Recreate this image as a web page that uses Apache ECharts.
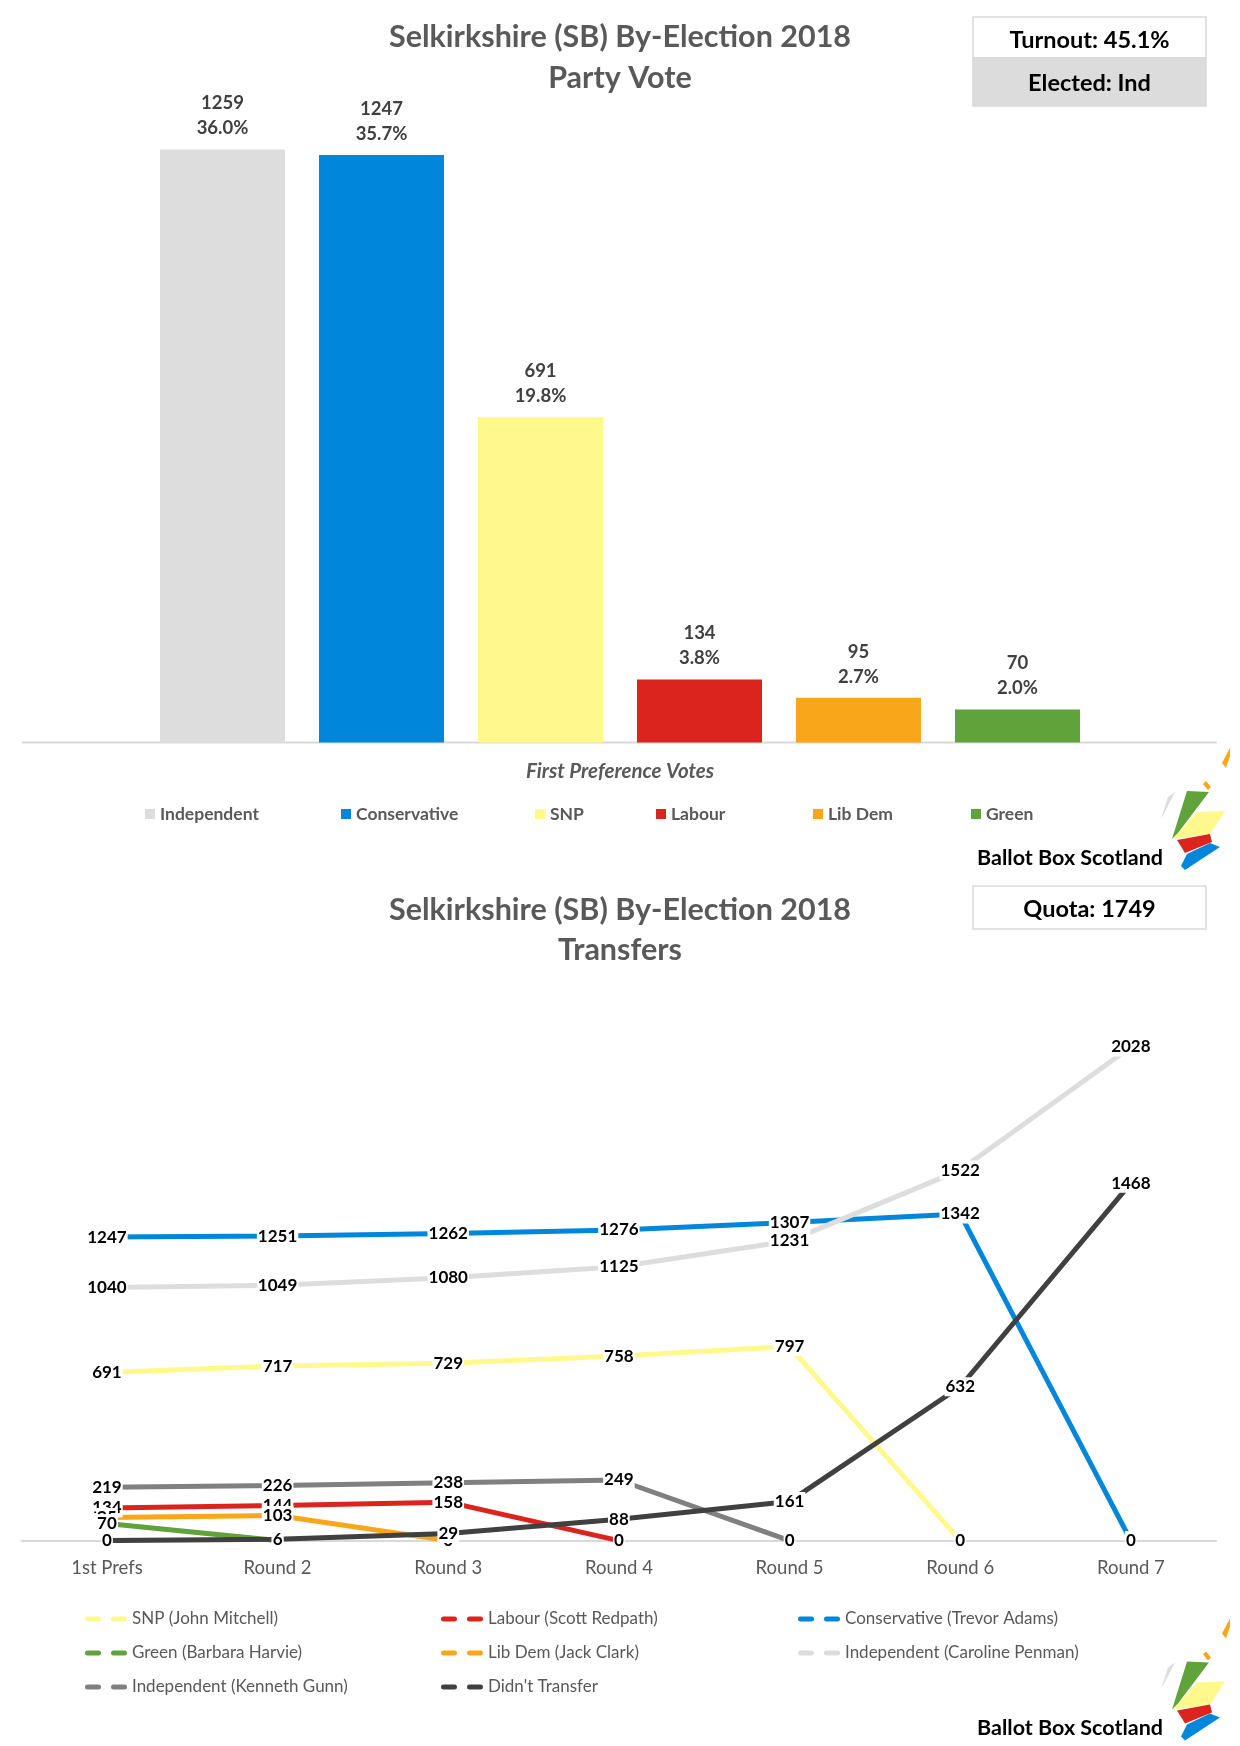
<!DOCTYPE html>
<html>
<head>
<meta charset="utf-8">
<title>Selkirkshire (SB) By-Election 2018</title>
<script src="https://cdn.jsdelivr.net/npm/echarts@6/dist/echarts.min.js"></script>
<style>
  html, body { margin: 0; padding: 0; background: #fff; }
  #main { width: 1240px; height: 1746px; }
</style>
</head>
<body>
<div id="main"></div>
<script>
// first preference votes
var parties = ['Independent', 'Conservative', 'SNP', 'Labour', 'Lib Dem', 'Green'];
var firstPrefs = [1259, 1247, 691, 134, 95, 70];
var firstPrefPct = ['36.0', '35.7', '19.8', '3.8', '2.7', '2.0'];
var partyColors = ['#dddddd', '#0087dc', '#fff98d', '#dc241f', '#faa61a', '#60a33a'];

// transfers by round ('-' = candidate already eliminated)
var rounds = ['1st Prefs', 'Round 2', 'Round 3', 'Round 4', 'Round 5', 'Round 6', 'Round 7'];
var snpMitchell = [691, 717, 729, 758, 797, 0, '-'];
var labRedpath = [134, 144, 158, 0, '-', '-', '-'];
var conAdams = [1247, 1251, 1262, 1276, 1307, 1342, 0];
var grnHarvie = [70, 0, '-', '-', '-', '-', '-'];
var ldClark = [95, 103, 0, '-', '-', '-', '-'];
var indPenman = [1040, 1049, 1080, 1125, 1231, 1522, 2028];
var indGunn = [219, 226, 238, 249, 0, '-', '-'];
var noTransfer = [0, 6, 29, 88, 161, 632, 1468];

var font = 'Lato';
var grey = '#595959';

var chart = echarts.init(document.getElementById('main'));

var barSeries = parties.map(function (p, i) {
  return {
    name: p,
    type: 'bar',
    xAxisIndex: 0,
    yAxisIndex: 0,
    barWidth: 125,
    barGap: '-100%',
    itemStyle: { color: partyColors[i] },
    label: {
      show: true,
      position: 'top',
      distance: 8.5,
      color: '#404040',
      fontFamily: font,
      fontWeight: 'bold',
      fontSize: 18.5,
      lineHeight: 25,
      formatter: function (e) {
        return e.value + '\n' + firstPrefPct[e.dataIndex] + '%';
      }
    },
    data: parties.map(function (q, j) { return j === i ? firstPrefs[j] : '-'; })
  };
});

function transferLine(name, data, color) {
  return {
    name: name,
    type: 'line',
    xAxisIndex: 1,
    yAxisIndex: 1,
    data: data,
    color: color,
    symbol: 'circle',
    symbolSize: 2,
    showAllSymbol: true,
    lineStyle: { width: 5, color: color },
    label: {
      show: true,
      position: 'inside',
      color: '#000',
      fontFamily: font,
      fontWeight: 'bold',
      fontSize: 17,
      backgroundColor: '#fff',
      padding: [1, 1]
    }
  };
}

// draw order: green after lib dem so its label sits on top, like the original
var lineSeries = [
  transferLine('SNP (John Mitchell)', snpMitchell, '#fff98d'),
  transferLine('Labour (Scott Redpath)', labRedpath, '#dc241f'),
  transferLine('Conservative (Trevor Adams)', conAdams, '#0087dc'),
  transferLine('Lib Dem (Jack Clark)', ldClark, '#faa61a'),
  transferLine('Green (Barbara Harvie)', grnHarvie, '#60a33a'),
  transferLine('Independent (Caroline Penman)', indPenman, '#dddddd'),
  transferLine('Independent (Kenneth Gunn)', indGunn, '#808080'),
  transferLine("Didn't Transfer", noTransfer, '#404040')
];

// top legend, one block per party
var topLegendX = [145, 341, 535, 656, 813, 971];
var legends = parties.map(function (p, i) {
  return {
    data: [p],
    left: topLegendX[i],
    top: 805,
    padding: 0,
    icon: 'rect',
    itemWidth: 10,
    itemHeight: 10,
    textStyle: { color: grey, fontFamily: font, fontWeight: 'bold', fontSize: 17.5 }
  };
});

// bottom legend in three columns
var dashIcon = 'path://M2.5,0H13.5A2.5,2.5,0,0,1,13.5,5H2.5A2.5,2.5,0,0,1,2.5,0Z M28.5,0H39.5A2.5,2.5,0,0,1,39.5,5H28.5A2.5,2.5,0,0,1,28.5,0Z';
var bottomCols = [
  ['SNP (John Mitchell)', 'Green (Barbara Harvie)', 'Independent (Kenneth Gunn)'],
  ['Labour (Scott Redpath)', 'Lib Dem (Jack Clark)', "Didn't Transfer"],
  ['Conservative (Trevor Adams)', 'Independent (Caroline Penman)']
];
var bottomColX = [85, 441, 798];
bottomCols.forEach(function (col, i) {
  legends.push({
    data: col,
    orient: 'vertical',
    left: bottomColX[i],
    top: 1609,
    padding: 0,
    itemGap: 14,
    icon: dashIcon,
    itemWidth: 42,
    itemHeight: 5,
    itemStyle: { borderWidth: 0 },
    textStyle: { color: grey, fontFamily: font, fontSize: 17, lineHeight: 20 }
  });
});

// Ballot Box Scotland logo pieces
var logoShapes = [
  { color: '#dddddd', points: [[1175, 792], [1168, 797], [1161, 819]] },
  { color: '#60a33a', points: [[1187, 791], [1209, 792], [1178, 833], [1172, 839]] },
  { color: '#fff98d', points: [[1197, 812], [1225, 811], [1210, 834], [1173, 839]] },
  { color: '#dc241f', points: [[1177, 840], [1210, 834], [1212, 842], [1185, 853]] },
  { color: '#0087dc', points: [[1187, 854], [1210, 843], [1220, 847], [1185, 870], [1181, 866]] },
  { color: '#faa61a', points: [[1203, 784], [1206, 781], [1211, 787], [1208, 790]] },
  { color: '#faa61a', points: [[1230, 748], [1222, 763], [1226, 768], [1230, 756]] }
];
function logo(dy) {
  var els = logoShapes.map(function (s) {
    return {
      type: 'polygon',
      shape: { points: s.points.map(function (p) { return [p[0], p[1] + dy]; }) },
      style: { fill: s.color }
    };
  });
  els.push({
    type: 'text',
    x: 1163, y: 858 + dy,
    style: {
      text: 'Ballot Box Scotland', align: 'right', verticalAlign: 'middle',
      fill: '#000', font: 'bold 21.5px ' + font
    }
  });
  return els;
}

function box(x, y, w, h, fill) {
  return { type: 'rect', shape: { x: x, y: y, width: w, height: h }, style: { fill: fill, stroke: '#d9d9d9', lineWidth: 1.5 } };
}
function boxText(txt, y) {
  return {
    type: 'text', x: 1089.5, y: y,
    style: { text: txt, align: 'center', verticalAlign: 'middle', fill: '#000', font: 'bold 23.5px ' + font }
  };
}

var graphics = [
  { type: 'line', shape: { x1: 22, y1: 742.5, x2: 1217, y2: 742.5 }, style: { stroke: '#d9d9d9', lineWidth: 2 } },
  box(973, 17, 233, 41, '#fff'),
  box(973, 58, 233, 48, '#dcdcdc'),
  boxText('Turnout: 45.1%', 40),
  boxText('Elected: Ind', 83),
  box(973, 886, 233, 43, '#fff'),
  boxText('Quota: 1749', 909)
].concat(logo(0), logo(870.5));

var option = {
  backgroundColor: '#fff',
  animation: false,
  title: [{
    text: 'Selkirkshire (SB) By-Election 2018\nParty Vote',
    left: 'center',
    top: 17,
    padding: 0,
    textStyle: { color: grey, fontFamily: font, fontWeight: 'bold', fontSize: 30.5, lineHeight: 41 }
  }, {
    text: 'Selkirkshire (SB) By-Election 2018\nTransfers',
    left: 'center',
    top: 890,
    padding: 0,
    textStyle: { color: grey, fontFamily: font, fontWeight: 'bold', fontSize: 30.5, lineHeight: 40 }
  }],
  legend: legends,
  grid: [
    { left: 143, right: 143, top: 83, bottom: 1003.5 },
    { left: 21.6, right: 23.8, top: 932, bottom: 205.4 }
  ],
  xAxis: [{
    type: 'category',
    gridIndex: 0,
    data: parties,
    axisLine: { show: false },
    axisTick: { show: false },
    axisLabel: { show: false },
    name: 'First Preference Votes',
    nameLocation: 'middle',
    nameGap: 19,
    nameTextStyle: { color: grey, fontFamily: font, fontWeight: 'bold', fontStyle: 'italic', fontSize: 20.5, verticalAlign: 'top' }
  }, {
    type: 'category',
    gridIndex: 1,
    data: rounds,
    axisLine: { lineStyle: { color: '#d9d9d9', width: 2 } },
    axisTick: { show: false },
    axisLabel: { color: grey, fontFamily: font, fontSize: 18.5, margin: 18 }
  }],
  yAxis: [{
    type: 'value', gridIndex: 0, min: 0, max: 1400, show: false, splitLine: { show: false }
  }, {
    type: 'value', gridIndex: 1, min: 0, max: 2500, show: false, splitLine: { show: false }
  }],
  graphic: graphics,
  series: barSeries.concat(lineSeries)
};

chart.setOption(option);
</script>
</body>
</html>
